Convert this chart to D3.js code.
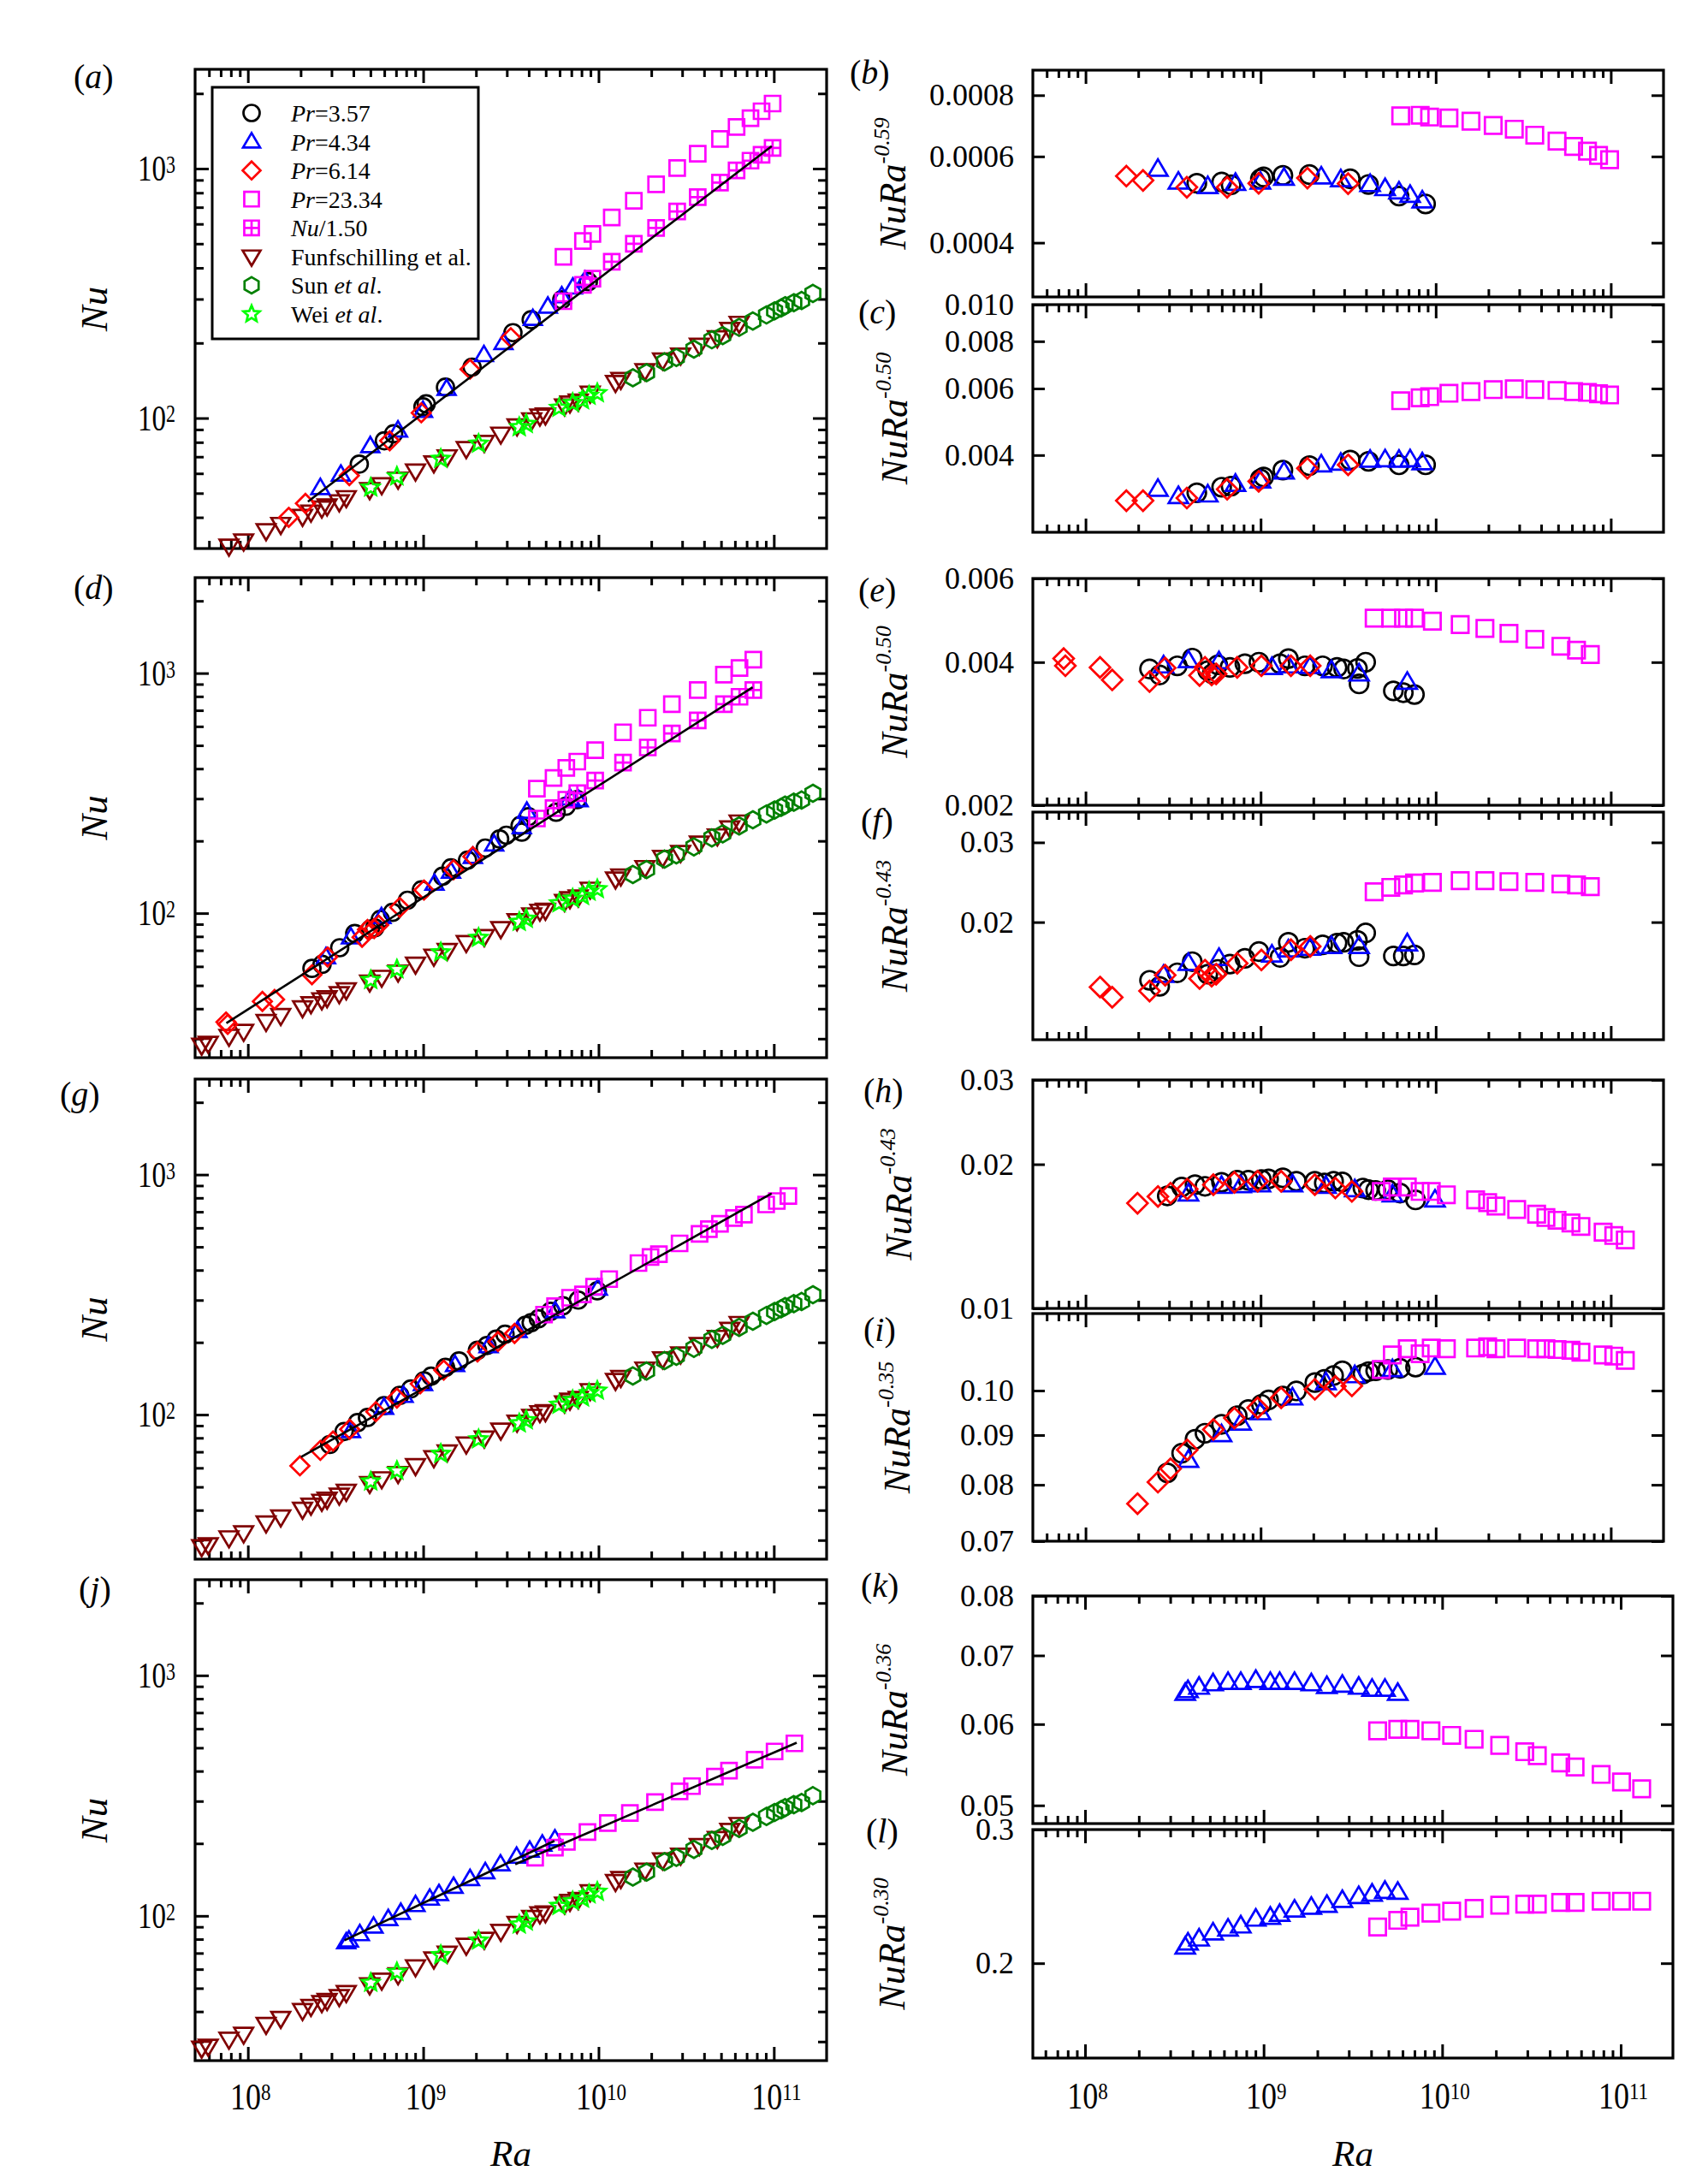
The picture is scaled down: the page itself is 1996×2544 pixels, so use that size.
<!DOCTYPE html>
<html><head><meta charset="utf-8">
<script src="https://cdn.jsdelivr.net/npm/d3@7"></script>
<style>
body{margin:0;background:#fff}
svg{display:block}
text{font-family:"Liberation Serif","Times New Roman",serif;fill:#000}
</style>
</head><body><script>
// ---------------- DATA (Ra, value) ----------------
// Reference data shown in every Nu panel
const funf = [[5.45e7,28.2],[5.94e7,28.7],[7.8e7,30.7],[9.46e7,32.2],[1.27e8,35.4],[1.54e8,37.5],[2.05e8,40.4],[2.29e8,42.0],[2.64e8,43.6],[2.83e8,44.5],[3.32e8,46.2],[3.64e8,48.0],[4.95e8,51.7],[5.8e8,54.1],[7.19e8,56.9],[9.04e8,61.4],[1.15e9,66.2],[1.37e9,70.0],[1.76e9,75.5],[2.23e9,80.0],[2.77e9,86.3],[3.43e9,93.1],[4.16e9,98.5],[4.63e9,102],[4.98e9,103],[6.4e9,112],[6.87e9,115],[7.66e9,117],[8.96e9,126],[1.25e10,139],[1.34e10,143],[1.84e10,155],[2.32e10,171],[2.94e10,179],[3.76e10,196],[4.76e10,210],[5.61e10,227],[6.34e10,240]];
const sun = [[1.57e10,145],[1.88e10,152],[2.38e10,168],[2.78e10,175],[3.5e10,189],[4.43e10,206],[5.11e10,214],[6.34e10,231],[7.59e10,245],[9.08e10,259],[1.01e11,269],[1.1e11,276],[1.16e11,282],[1.3e11,290],[1.44e11,296],[1.67e11,316]];
const wei = [[5.02e8,52.7],[7.08e8,58.4],[1.26e9,68.7],[2.07e9,79.0],[3.53e9,92.0],[3.87e9,94.8],[5.96e9,110],[7.12e9,115],[8.1e9,118],[8.83e9,123],[9.84e9,126]];

// Panel (a)
const a_pr357 = [[4.32e8,65.4],[6.0e8,81.1],[6.78e8,86.5],[9.97e8,111],[1.04e9,114],[1.34e9,133],[1.9e9,160],[3.25e9,220],[4.13e9,248],[6.17e9,298],[8.75e9,352]];
const a_pr434 = [[2.59e8,52.5],[3.39e8,59.4],[4.99e8,77.3],[7.18e8,89.3],[9.97e8,107],[1.36e9,131],[2.22e9,179],[2.87e9,200],[4.22e9,250],[5.14e9,280],[6.17e9,308],[7.14e9,334],[8.38e9,356]];
const a_pr614 = [[1.71e8,40.0],[2.13e8,45.5],[3.79e8,58.8],[6.44e8,81.1],[9.75e8,105],[1.85e9,157],[3.16e9,210]];
const a_pr2334 = [[6.31e9,443],[8.15e9,513],[9.23e9,547],[1.19e10,637],[1.59e10,743],[2.13e10,865],[2.81e10,1005],[3.68e10,1147],[4.93e10,1314],[6.13e10,1469],[7.36e10,1593],[8.51e10,1698],[9.84e10,1823]];
const a_scaled = [[6.31e9,294],[8.15e9,342],[9.23e9,362],[1.19e10,423],[1.59e10,500],[2.13e10,578],[2.81e10,673],[3.68e10,768],[4.93e10,879],[6.13e10,983],[7.36e10,1076],[8.51e10,1136],[9.84e10,1210]];
const a_fit = [[2.2e8,46.2],[9.73e10,1231]];

// Panel (b)  Nu Ra^-0.59
const b_pr357 = [[4.32e8,5.29e-4],[5.99e8,5.32e-4],[6.78e8,5.25e-4],[9.97e8,5.40e-4],[1.04e9,5.45e-4],[1.34e9,5.49e-4],[1.9e9,5.51e-4],[3.25e9,5.40e-4],[4.13e9,5.26e-4],[6.17e9,4.98e-4],[8.75e9,4.80e-4]];
const b_pr434 = [[2.59e8,5.65e-4],[3.39e8,5.32e-4],[4.99e8,5.21e-4],[7.18e8,5.29e-4],[9.97e8,5.32e-4],[1.36e9,5.42e-4],[2.22e9,5.45e-4],[2.87e9,5.38e-4],[4.22e9,5.26e-4],[5.14e9,5.16e-4],[6.17e9,5.08e-4],[7.14e9,5.0e-4],[8.38e9,4.87e-4]];
const b_pr614 = [[1.71e8,5.47e-4],[2.13e8,5.36e-4],[3.79e8,5.19e-4],[6.44e8,5.19e-4],[9.75e8,5.29e-4],[1.85e9,5.42e-4],[3.16e9,5.28e-4]];
const b_pr2334 = [[6.31e9,7.26e-4],[8.15e9,7.28e-4],[9.23e9,7.22e-4],[1.19e10,7.19e-4],[1.59e10,7.08e-4],[2.13e10,6.94e-4],[2.81e10,6.82e-4],[3.68e10,6.63e-4],[4.93e10,6.45e-4],[6.13e10,6.29e-4],[7.36e10,6.15e-4],[8.51e10,6.03e-4],[9.84e10,5.91e-4]];

// Panel (c)  Nu Ra^-0.50
const c_pr357 = [[4.32e8,3.18e-3],[5.99e8,3.29e-3],[6.78e8,3.31e-3],[9.97e8,3.46e-3],[1.04e9,3.5e-3],[1.34e9,3.65e-3],[1.9e9,3.75e-3],[3.25e9,3.88e-3],[4.13e9,3.85e-3],[6.17e9,3.77e-3],[8.75e9,3.77e-3]];
const c_pr434 = [[2.59e8,3.25e-3],[3.39e8,3.11e-3],[4.99e8,3.14e-3],[7.18e8,3.35e-3],[9.97e8,3.42e-3],[1.36e9,3.61e-3],[2.22e9,3.77e-3],[2.87e9,3.81e-3],[4.22e9,3.88e-3],[5.14e9,3.89e-3],[6.17e9,3.88e-3],[7.14e9,3.89e-3],[8.38e9,3.82e-3]];
const c_pr614 = [[1.71e8,3.03e-3],[2.13e8,3.03e-3],[3.79e8,3.08e-3],[6.44e8,3.25e-3],[9.75e8,3.41e-3],[1.85e9,3.69e-3],[3.16e9,3.77e-3]];
const c_pr2334 = [[6.31e9,5.57e-3],[8.15e9,5.67e-3],[9.23e9,5.71e-3],[1.19e10,5.83e-3],[1.59e10,5.89e-3],[2.13e10,5.96e-3],[2.81e10,5.99e-3],[3.68e10,5.96e-3],[4.93e10,5.93e-3],[6.13e10,5.89e-3],[7.36e10,5.86e-3],[8.51e10,5.81e-3],[9.84e10,5.77e-3]];

// Panel (d)
const d_pr357 = [[2.32e8,58.9],[2.65e8,61.2],[3.34e8,71.8],[4.07e8,82.3],[4.99e8,85.8],[5.29e8,86.9],[5.69e8,94.2],[6.68e8,100.8],[8.13e8,113.2],[9.77e8,125.0],[1.29e9,142.6],[1.44e9,154.4],[1.79e9,166.3],[2.26e9,186.8],[2.73e9,203.8],[2.98e9,211.3],[3.57e9,231.8],[3.65e9,217.5],[3.98e9,252.3],[5.73e9,263.4],[6.53e9,278.8],[7.56e9,297.4]];
const d_pr434 = [[2.79e8,65.6],[3.87e8,79.3],[5.78e8,96.4],[1.16e9,132.8],[1.44e9,149.1],[1.92e9,171.8],[2.54e9,193.5],[3.65e9,228.4],[3.9e9,265],[6.88e9,301.1],[7.7e9,296]];
const d_pr614 = [[7.5e7,35.2],[7.67e7,34.4],[1.21e8,42.9],[1.42e8,43.7],[2.32e8,55.4],[2.85e8,65.7],[4.48e8,79.4],[4.81e8,85.5],[5.25e8,86.2],[5.57e8,89.2],[7.35e8,105.7],[1.01e9,124.9],[1.49e9,151.7],[1.92e9,172.2]];
const d_pr2334 = [[4.45e9,330],[5.54e9,366],[6.55e9,403],[7.57e9,428],[9.57e9,478],[1.38e10,567],[1.91e10,652],[2.62e10,742],[3.68e10,850],[5.19e10,985],[6.37e10,1050],[7.64e10,1138]];
const d_scaled = [[4.45e9,248],[5.54e9,274],[6.55e9,297],[7.57e9,316],[9.57e9,357],[1.38e10,424],[1.91e10,490],[2.62e10,561],[3.68e10,635],[5.19e10,742],[6.37e10,797],[7.64e10,850]];
const d_fit = [[7.54e7,34.8],[7.57e10,873]];

// Panel (e)  Nu Ra^-0.50
const e_pr357 = [[2.32e8,3.87e-3],[2.65e8,3.76e-3],[3.34e8,3.93e-3],[4.07e8,4.08e-3],[4.99e8,3.84e-3],[5.29e8,3.78e-3],[5.69e8,3.95e-3],[6.68e8,3.90e-3],[8.13e8,3.97e-3],[9.77e8,4.0e-3],[1.29e9,3.97e-3],[1.44e9,4.07e-3],[1.79e9,3.93e-3],[2.26e9,3.93e-3],[2.73e9,3.90e-3],[2.98e9,3.87e-3],[3.57e9,3.88e-3],[3.65e9,3.60e-3],[3.98e9,4.0e-3],[5.73e9,3.48e-3],[6.53e9,3.45e-3],[7.56e9,3.42e-3]];
const e_pr434 = [[2.79e8,3.93e-3],[3.87e8,4.03e-3],[5.78e8,4.01e-3],[1.16e9,3.90e-3],[1.44e9,3.93e-3],[1.92e9,3.92e-3],[2.54e9,3.84e-3],[3.65e9,3.78e-3],[6.88e9,3.63e-3]];
const e_pr614 = [[7.5e7,4.07e-3],[7.67e7,3.93e-3],[1.21e8,3.90e-3],[1.42e8,3.67e-3],[2.32e8,3.64e-3],[2.85e8,3.89e-3],[4.48e8,3.75e-3],[4.81e8,3.90e-3],[5.25e8,3.76e-3],[5.57e8,3.78e-3],[7.35e8,3.90e-3],[1.01e9,3.93e-3],[1.49e9,3.93e-3],[1.92e9,3.93e-3]];
const e_pr2334 = [[4.45e9,4.95e-3],[5.54e9,4.95e-3],[6.55e9,4.95e-3],[7.57e9,4.95e-3],[9.57e9,4.88e-3],[1.38e10,4.80e-3],[1.91e10,4.71e-3],[2.62e10,4.60e-3],[3.68e10,4.47e-3],[5.19e10,4.32e-3],[6.37e10,4.24e-3],[7.64e10,4.15e-3]];

// Panel (f)  Nu Ra^-0.43
const f_pr357 = [[2.32e8,1.488e-2],[2.65e8,1.443e-2],[3.34e8,1.546e-2],[4.07e8,1.636e-2],[4.99e8,1.535e-2],[5.69e8,1.573e-2],[6.68e8,1.616e-2],[8.13e8,1.664e-2],[9.77e8,1.722e-2],[1.29e9,1.672e-2],[1.44e9,1.805e-2],[1.79e9,1.752e-2],[2.26e9,1.782e-2],[2.73e9,1.798e-2],[2.98e9,1.805e-2],[3.57e9,1.823e-2],[3.65e9,1.678e-2],[3.98e9,1.893e-2],[5.73e9,1.684e-2],[6.53e9,1.684e-2],[7.56e9,1.693e-2]];
const f_pr434 = [[2.79e8,1.527e-2],[3.87e8,1.622e-2],[5.78e8,1.664e-2],[1.16e9,1.693e-2],[1.44e9,1.738e-2],[1.92e9,1.752e-2],[2.54e9,1.768e-2],[3.65e9,1.768e-2],[6.88e9,1.792e-2]];
const f_pr614 = [[1.21e8,1.438e-2],[1.42e8,1.365e-2],[2.32e8,1.409e-2],[2.85e8,1.527e-2],[4.48e8,1.501e-2],[4.81e8,1.567e-2],[5.25e8,1.519e-2],[5.57e8,1.535e-2],[7.35e8,1.622e-2],[1.01e9,1.65e-2],[1.49e9,1.738e-2],[1.92e9,1.768e-2]];
const f_pr2334 = [[4.45e9,2.334e-2],[5.54e9,2.387e-2],[6.55e9,2.416e-2],[7.57e9,2.441e-2],[9.57e9,2.449e-2],[1.38e10,2.47e-2],[1.91e10,2.47e-2],[2.62e10,2.458e-2],[3.68e10,2.449e-2],[5.19e10,2.428e-2],[6.37e10,2.416e-2],[7.64e10,2.395e-2]];

// Panel (g)
const g_pr357 = [[2.93e8,75.1],[3.54e8,85.1],[4.22e8,92.7],[4.81e8,97.3],[5.98e8,109.0],[7.35e8,120.3],[8.5e8,128.0],[1.01e9,138.4],[1.11e9,144.6],[1.34e9,157.4],[1.6e9,167.4],[2.04e9,185.5],[2.31e9,194.1],[2.61e9,206.5],[2.93e9,216.2],[3.84e9,235.8],[4.13e9,241.5],[4.54e9,250.7],[5.33e9,269.5],[6.26e9,284.2],[7.67e9,300.1],[9.84e9,328]];
const g_pr434 = [[3.87e8,85.5],[5.98e8,106.9],[7.73e8,119.8],[9.97e8,134.3],[1.52e9,161.1],[2.36e9,192.9],[3.45e9,223.3],[5.66e9,269.8],[9.91e9,334.9]];
const g_pr614 = [[1.98e8,61.2],[2.59e8,71.0],[3.06e8,77.6],[3.81e8,86.9],[5.37e8,102.9],[7.08e8,117.2],[9.62e8,134.4],[1.31e9,153.3],[2.04e9,182.5],[2.67e9,201.6],[3.32e9,217.9]];
const g_pr2334 = [[4.89e9,261],[5.65e9,283],[6.88e9,307],[8.15e9,317],[9.43e9,341],[1.15e10,367],[1.69e10,428],[1.98e10,454],[2.21e10,466],[2.9e10,517],[3.77e10,566],[4.26e10,593],[4.93e10,624],[5.92e10,659],[6.75e10,681],[9.04e10,751],[1.04e11,776],[1.21e11,815]];
const g_fit = [[2.01e8,66.6],[9.72e10,834]];

// Panel (h)  Nu Ra^-0.43
const h_pr357 = [[2.93e8,1.718e-2],[3.54e8,1.793e-2],[4.22e8,1.813e-2],[4.81e8,1.799e-2],[5.98e8,1.834e-2],[7.35e8,1.852e-2],[8.5e8,1.852e-2],[1.01e9,1.858e-2],[1.11e9,1.864e-2],[1.34e9,1.874e-2],[1.6e9,1.843e-2],[2.04e9,1.843e-2],[2.31e9,1.828e-2],[2.61e9,1.843e-2],[2.93e9,1.837e-2],[3.84e9,1.784e-2],[4.13e9,1.77e-2],[4.54e9,1.764e-2],[5.33e9,1.77e-2],[6.26e9,1.741e-2],[7.67e9,1.685e-2]];
const h_pr434 = [[3.87e8,1.735e-2],[5.98e8,1.799e-2],[7.73e8,1.805e-2],[9.97e8,1.813e-2],[1.52e9,1.813e-2],[2.36e9,1.799e-2],[3.45e9,1.77e-2],[5.66e9,1.727e-2],[9.91e9,1.685e-2]];
const h_pr614 = [[1.98e8,1.658e-2],[2.59e8,1.713e-2],[3.06e8,1.741e-2],[3.81e8,1.775e-2],[5.37e8,1.813e-2],[7.08e8,1.834e-2],[9.62e8,1.843e-2],[1.31e9,1.843e-2],[2.04e9,1.813e-2],[2.67e9,1.784e-2],[3.32e9,1.755e-2]];
const h_pr2334 = [[4.89e9,1.755e-2],[5.65e9,1.793e-2],[6.88e9,1.793e-2],[8.15e9,1.755e-2],[9.43e9,1.755e-2],[1.15e10,1.727e-2],[1.69e10,1.685e-2],[1.98e10,1.663e-2],[2.21e10,1.636e-2],[2.9e10,1.609e-2],[3.77e10,1.573e-2],[4.26e10,1.548e-2],[4.93e10,1.528e-2],[5.92e10,1.508e-2],[6.75e10,1.483e-2],[9.04e10,1.443e-2],[1.04e11,1.42e-2],[1.21e11,1.39e-2]];

// Panel (i)  Nu Ra^-0.35
const i_pr357 = [[2.93e8,8.23e-2],[3.54e8,8.62e-2],[4.22e8,8.91e-2],[4.81e8,9.04e-2],[5.98e8,9.23e-2],[7.35e8,9.42e-2],[8.5e8,9.56e-2],[1.01e9,9.68e-2],[1.11e9,9.78e-2],[1.34e9,9.87e-2],[1.6e9,9.99e-2],[2.04e9,0.1019],[2.31e9,0.1027],[2.61e9,0.1036],[2.93e9,0.1048],[3.84e9,0.104],[4.13e9,0.1046],[4.54e9,0.1048],[5.33e9,0.1051],[6.26e9,0.1054],[7.67e9,0.1057]];
const i_pr434 = [[3.87e8,8.48e-2],[5.98e8,9.01e-2],[7.73e8,9.26e-2],[9.97e8,9.49e-2],[1.52e9,9.83e-2],[2.36e9,0.1019],[3.45e9,0.1036],[5.66e9,0.1051],[9.91e9,0.1057]];
const i_pr614 = [[1.98e8,7.65e-2],[2.59e8,8.05e-2],[3.06e8,8.31e-2],[3.81e8,8.69e-2],[5.37e8,9.12e-2],[7.08e8,9.37e-2],[9.62e8,9.6e-2],[1.31e9,9.83e-2],[2.04e9,0.1003],[2.67e9,0.101],[3.32e9,0.1011]];
const i_pr2334 = [[4.89e9,0.1051],[5.65e9,0.1088],[6.88e9,0.1104],[8.15e9,0.1091],[9.43e9,0.1106],[1.15e10,0.1104],[1.69e10,0.1106],[1.98e10,0.1109],[2.21e10,0.1104],[2.9e10,0.1106],[3.77e10,0.1104],[4.26e10,0.1104],[4.93e10,0.1102],[5.92e10,0.11],[6.75e10,0.1095],[9.04e10,0.1088],[1.04e11,0.1085],[1.21e11,0.1074]];

// Panel (j)
const j_pr434 = [[3.64e8,77.7],[3.77e8,79.1],[4.35e8,84.0],[5.21e8,90.3],[6.32e8,97.1],[7.45e8,103.0],[9.04e8,111.0],[1.09e9,118.0],[1.23e9,123.3],[1.49e9,132.2],[1.85e9,142.4],[2.26e9,152.1],[2.76e9,163.9],[3.41e9,176.3],[4.05e9,186.7],[4.78e9,198.1],[5.64e9,208.2]];
const j_pr2334 = [[4.35e9,174.4],[5.64e9,192.0],[6.6e9,203.1],[8.65e9,223.3],[1.13e10,243.2],[1.51e10,267.8],[2.1e10,297.4],[2.9e10,329.3],[3.41e10,346.3],[4.61e10,379.6],[5.55e10,402.0],[7.77e10,446.3],[1.01e11,482.6],[1.31e11,521.5]];
const j_fit1 = [[3.56e8,79.1],[5.6e9,205]];
const j_fit2 = [[3.35e9,164],[1.35e11,525]];

// Panel (k)  Nu Ra^-0.36
const k_pr434 = [[3.64e8,6.43e-2],[3.77e8,6.47e-2],[4.35e8,6.52e-2],[5.21e8,6.57e-2],[6.32e8,6.59e-2],[7.45e8,6.59e-2],[9.04e8,6.62e-2],[1.09e9,6.59e-2],[1.23e9,6.59e-2],[1.49e9,6.59e-2],[1.85e9,6.57e-2],[2.26e9,6.53e-2],[2.76e9,6.55e-2],[3.41e9,6.52e-2],[4.05e9,6.49e-2],[4.78e9,6.49e-2],[5.64e9,6.43e-2]];
const k_pr2334 = [[4.35e9,5.91e-2],[5.64e9,5.93e-2],[6.6e9,5.93e-2],[8.65e9,5.91e-2],[1.13e10,5.85e-2],[1.51e10,5.80e-2],[2.1e10,5.72e-2],[2.9e10,5.64e-2],[3.41e10,5.59e-2],[4.61e10,5.50e-2],[5.55e10,5.45e-2],[7.77e10,5.36e-2],[1.01e11,5.27e-2],[1.31e11,5.19e-2]];

// Panel (l)  Nu Ra^-0.30
const l_pr434 = [[3.64e8,0.2101],[3.77e8,0.2127],[4.35e8,0.2153],[5.21e8,0.2193],[6.32e8,0.2219],[7.45e8,0.224],[9.04e8,0.2287],[1.09e9,0.23],[1.23e9,0.232],[1.49e9,0.2351],[1.85e9,0.2371],[2.26e9,0.2385],[2.76e9,0.242],[3.41e9,0.2449],[4.05e9,0.2467],[4.78e9,0.2488],[5.64e9,0.2481]];
const l_pr2334 = [[4.35e9,0.2232],[5.64e9,0.2278],[6.6e9,0.23],[8.65e9,0.2328],[1.13e10,0.2342],[1.51e10,0.2362],[2.1e10,0.2385],[2.9e10,0.2393],[3.41e10,0.2393],[4.61e10,0.2405],[5.55e10,0.2405],[7.77e10,0.2414],[1.01e11,0.2414],[1.31e11,0.2414]];

// Axis ticks / labels
const xMajor = [1e8,1e9,1e10,1e11];
const xMajorExp = ['8','9','10','11'];
const nuMajor = [1e2,1e3];
const nuMajorExp = ['2','3'];
const b_ticks=[0.0004,0.0006,0.0008], c_ticks=[0.004,0.006,0.008,0.010], e_ticks=[0.002,0.004,0.006],
      f_ticks=[0.02,0.03], h_ticks=[0.01,0.02,0.03], i_ticks=[0.07,0.08,0.09,0.10],
      k_ticks=[0.05,0.06,0.07,0.08], l_ticks=[0.2,0.3];
const legendLabels = [
  [['Pr','i'],['=3.57','n']],[['Pr','i'],['=4.34','n']],[['Pr','i'],['=6.14','n']],[['Pr','i'],['=23.34','n']],
  [['Nu','i'],['/1.50','n']],[['Funfschilling et al.','n']],[['Sun ','n'],['et al','i'],['.','n']],[['Wei ','n'],['et al','i'],['.','n']]
];

// ---------------- DRAWING ----------------
const W=1996,H=2544;
const svg=d3.select('body').append('svg').attr('width',W).attr('height',H);
svg.append('rect').attr('width',W).attr('height',H).attr('fill','#fff');

const K='#000000',B='#0000ff',R='#ff0000',M='#ff00ff',FU='#800000',SU='#008000',WE='#00ff00';

// custom symbol types (size = half width)
const SYM = {
  circle:{draw(c,r){c.moveTo(r,0);c.arc(0,0,r,0,2*Math.PI);}},
  tri:{draw(c,r){const h=r*1.7;c.moveTo(0,-h*0.6);c.lineTo(r,h*0.4);c.lineTo(-r,h*0.4);c.closePath();}},
  triDown:{draw(c,r){const h=r*1.7;c.moveTo(0,h*0.6);c.lineTo(r,-h*0.4);c.lineTo(-r,-h*0.4);c.closePath();}},
  diamond:{draw(c,r){c.moveTo(0,-r);c.lineTo(r,0);c.lineTo(0,r);c.lineTo(-r,0);c.closePath();}},
  square:{draw(c,r){c.rect(-r,-r,2*r,2*r);}},
  squarePlus:{draw(c,r){c.rect(-r,-r,2*r,2*r);c.moveTo(0,-r);c.lineTo(0,r);c.moveTo(-r,0);c.lineTo(r,0);}},
  hex:{draw(c,r){for(let k=0;k<6;k++){const a=(-90+60*k)*Math.PI/180;const x=r*Math.cos(a),y=r*Math.sin(a);k?c.lineTo(x,y):c.moveTo(x,y);}c.closePath();}},
  star:{draw(c,r){for(let k=0;k<10;k++){const rr=k%2?r*0.45:r;const a=(-90+36*k)*Math.PI/180;const x=rr*Math.cos(a),y=rr*Math.sin(a);k?c.lineTo(x,y):c.moveTo(x,y);}c.closePath();}}
};
const SIZE = {circle:10,tri:10.5,triDown:11,diamond:11,square:9,squarePlus:9,hex:10,star:10.5};

function drawSeries(g,data,type,color,x,y,scale){
  const [x0,x1]=x.domain(), [y0,y1]=y.domain();
  const pts=data.filter(d=>d[0]>=x0&&d[0]<=x1&&d[1]>=y0*0.995&&d[1]<=y1*1.005);
  g.append('g').selectAll('path').data(pts).join('path')
    .attr('d',d3.symbol().type(SYM[type]).size(SIZE[type]*scale))
    .attr('transform',d=>`translate(${x(d[0])},${y(d[1])})`)
    .attr('fill','none').attr('stroke',color).attr('stroke-width',2.7).attr('stroke-linejoin','miter');
}

function minorTicks(dom){
  const out=[];
  for(let e=-6;e<=12;e++){for(let k=2;k<=9;k++){const v=k*Math.pow(10,e);if(v>dom[0]*1.0001&&v<dom[1]*0.9999)out.push(v);}}
  return out;
}

function frameAndTicks(g,x,y,yMajor,yMinor,opt){
  const [X0,X1]=x.range(), [Y1,Y0]=y.range();
  const xmin=minorTicks(x.domain()), xmaj=xMajor.filter(v=>v>x.domain()[0]&&v<x.domain()[1]);
  const style=s=>{s.select('.domain').remove();s.selectAll('line').attr('stroke','#000').attr('stroke-width',3);};
  g.append('g').attr('transform',`translate(0,${Y1})`).call(d3.axisBottom(x).tickValues(xmin).tickSize(-9).tickFormat('')).call(style);
  g.append('g').attr('transform',`translate(0,${Y1})`).call(d3.axisBottom(x).tickValues(xmaj).tickSize(-16).tickFormat('')).call(style);
  g.append('g').attr('transform',`translate(0,${Y0})`).call(d3.axisTop(x).tickValues(xmin).tickSize(-9).tickFormat('')).call(style);
  g.append('g').attr('transform',`translate(0,${Y0})`).call(d3.axisTop(x).tickValues(xmaj).tickSize(-16).tickFormat('')).call(style);
  if(yMinor.length){
    g.append('g').attr('transform',`translate(${X0},0)`).call(d3.axisLeft(y).tickValues(yMinor).tickSize(-10).tickFormat('')).call(style);
    g.append('g').attr('transform',`translate(${X1},0)`).call(d3.axisRight(y).tickValues(yMinor).tickSize(-10).tickFormat('')).call(style);
  }
  g.append('g').attr('transform',`translate(${X0},0)`).call(d3.axisLeft(y).tickValues(yMajor).tickSize(-opt.major).tickFormat('')).call(style);
  g.append('g').attr('transform',`translate(${X1},0)`).call(d3.axisRight(y).tickValues(yMajor).tickSize(-opt.major).tickFormat('')).call(style);
  g.append('rect').attr('x',X0).attr('y',Y0).attr('width',X1-X0).attr('height',Y1-Y0)
    .attr('fill','none').attr('stroke','#000').attr('stroke-width',3.2);
}

function panelLabel(g,letter,px,py){
  const t=g.append('text').attr('x',px).attr('y',py).attr('font-size',40);
  t.append('tspan').text('(');
  t.append('tspan').attr('font-style','italic').text(letter);
  t.append('tspan').text(')');
}

function powLabel(g,xp,yp,exp,fs,sfs,sdy,sy,anchor){
  const gg=g.append('g').attr('transform',`translate(${xp},${yp}) scale(1,${sy})`);
  const t=gg.append('text').attr('text-anchor',anchor).attr('font-size',fs);
  t.append('tspan').text('10');
  t.append('tspan').attr('font-size',sfs).attr('dy',sdy).text(exp);
}

// ---------- left (Nu) panels ----------
const leftPanels = [
  {lab:'a', y:[81,641],  yd:[30,2500], lp:[86,103],
   ser:[[a_pr357,'circle',K],[a_pr434,'tri',B],[a_pr614,'diamond',R],[a_pr2334,'square',M],[a_scaled,'squarePlus',M]], fits:[a_fit], legend:true},
  {lab:'d', y:[675,1236], yd:[25,2500], lp:[86,700],
   ser:[[d_pr357,'circle',K],[d_pr434,'tri',B],[d_pr614,'diamond',R],[d_pr2334,'square',M],[d_scaled,'squarePlus',M]], fits:[d_fit]},
  {lab:'g', y:[1261,1822], yd:[25,2500], lp:[70,1292],
   ser:[[g_pr357,'circle',K],[g_pr434,'tri',B],[g_pr614,'diamond',R],[g_pr2334,'square',M]], fits:[g_fit]},
  {lab:'j', y:[1846,2408], yd:[25,2500], lp:[92,1870],
   ser:[[j_pr434,'tri',B],[j_pr2334,'square',M]], fits:[j_fit1,j_fit2], xlabels:true}
];

leftPanels.forEach(p=>{
  const g=svg.append('g');
  const x=d3.scaleLog().domain([5e7,2e11]).range([228,966]);
  const y=d3.scaleLog().domain(p.yd).range([p.y[1],p.y[0]]);
  frameAndTicks(g,x,y,nuMajor,minorTicks(p.yd),{major:16});
  drawSeries(g,funf,'triDown',FU,x,y,1);
  drawSeries(g,sun,'hex',SU,x,y,1);
  drawSeries(g,wei,'star',WE,x,y,1);
  p.ser.forEach(s=>drawSeries(g,s[0],s[1],s[2],x,y,1));
  const line=d3.line().x(d=>x(d[0])).y(d=>y(d[1]));
  p.fits.forEach(f=>g.append('path').attr('d',line(f)).attr('fill','none').attr('stroke','#000').attr('stroke-width',2.6));
  nuMajor.forEach((v,i)=>powLabel(g,205,y(v)+14,nuMajorExp[i],33,22,-7,1.3,'end'));
  g.append('text').attr('transform',`translate(125,${(p.y[0]+p.y[1])/2}) rotate(-90)`)
    .attr('text-anchor','middle').attr('font-size',45).attr('font-style','italic').text('Nu');
  panelLabel(g,p.lab,p.lp[0],p.lp[1]);
  if(p.xlabels){
    xMajor.forEach((v,i)=>powLabel(g,x(v)+3,2465,xMajorExp[i],36,23,-9,1.22,'middle'));
    g.append('text').attr('x',597).attr('y',2531).attr('text-anchor','middle').attr('font-size',43).attr('font-style','italic').text('Ra');
  }
  if(p.legend){
    const lg=g.append('g');
    lg.append('rect').attr('x',248).attr('y',102).attr('width',311).attr('height',294).attr('fill','#fff').attr('stroke','#000').attr('stroke-width',3);
    const types=[['circle',K],['tri',B],['diamond',R],['square',M],['squarePlus',M],['triDown',FU],['hex',SU],['star',WE]];
    const rowY=d3.scaleLinear().domain([0,7]).range([132,367]);
    types.forEach((t,i)=>{
      const cy=rowY(i);
      lg.append('path').attr('d',d3.symbol().type(SYM[t[0]]).size(SIZE[t[0]]*0.95)())
        .attr('transform',`translate(294,${cy})`).attr('fill','none').attr('stroke',t[1]).attr('stroke-width',2.7);
      const tx=lg.append('text').attr('x',340).attr('y',cy+10).attr('font-size',28);
      legendLabels[i].forEach(part=>tx.append('tspan').attr('font-style',part[1]==='i'?'italic':'normal').text(part[0]));
    });
  }
});

// ---------- right (compensated) panels ----------
const rightPanels = [
  {lab:'b', y:[82,347],   yd:[0.00031,0.0009], ticks:b_ticks, fmt:'.4f', exp:'-0.59', lp:[993,98], tx:1058,
   ser:[[b_pr357,'circle',K],[b_pr434,'tri',B],[b_pr614,'diamond',R],[b_pr2334,'square',M]]},
  {lab:'c', y:[356,622],  yd:[0.0025,0.010], ticks:c_ticks, fmt:'.3f', exp:'-0.50', lp:[1003,378], tx:1060,
   ser:[[c_pr357,'circle',K],[c_pr434,'tri',B],[c_pr614,'diamond',R],[c_pr2334,'square',M]]},
  {lab:'e', y:[676,941],  yd:[0.002,0.006], ticks:e_ticks, fmt:'.3f', exp:'-0.50', lp:[1003,703], tx:1060,
   ser:[[e_pr357,'circle',K],[e_pr434,'tri',B],[e_pr614,'diamond',R],[e_pr2334,'square',M]]},
  {lab:'f', y:[949,1215], yd:[0.011,0.035], ticks:f_ticks, fmt:'.2f', exp:'-0.43', lp:[1006,972], tx:1060,
   ser:[[f_pr357,'circle',K],[f_pr434,'tri',B],[f_pr614,'diamond',R],[f_pr2334,'square',M]]},
  {lab:'h', y:[1262,1529], yd:[0.01,0.03], ticks:h_ticks, fmt:'.2f', exp:'-0.43', lp:[1009,1288], tx:1065,
   ser:[[h_pr357,'circle',K],[h_pr434,'tri',B],[h_pr614,'diamond',R],[h_pr2334,'square',M]]},
  {lab:'i', y:[1535,1801], yd:[0.07,0.12], ticks:i_ticks, fmt:'.2f', exp:'-0.35', lp:[1009,1567], tx:1063,
   ser:[[i_pr357,'circle',K],[i_pr434,'tri',B],[i_pr614,'diamond',R],[i_pr2334,'square',M]]},
  {lab:'k', y:[1865,2131], yd:[0.048,0.08], ticks:k_ticks, fmt:'.2f', exp:'-0.36', lp:[1006,1866], tx:1060, wide:true,
   ser:[[k_pr434,'tri',B],[k_pr2334,'square',M]]},
  {lab:'l', y:[2138,2405], yd:[0.15,0.3], ticks:l_ticks, fmt:'.1f', exp:'-0.30', lp:[1012,2153], tx:1057, wide:true,
   ser:[[l_pr434,'tri',B],[l_pr2334,'square',M]], xlabels:true}
];

rightPanels.forEach(p=>{
  const g=svg.append('g');
  const x=p.wide? d3.scaleLog().domain([5.1e7,1.96e11]).range([1207,1955])
                : d3.scaleLog().domain([5e7,2e11]).range([1207,1944]);
  const y=d3.scaleLog().domain(p.yd).range([p.y[1],p.y[0]]);
  frameAndTicks(g,x,y,p.ticks,[],{major:14});
  p.ser.forEach(s=>drawSeries(g,s[0],s[1],s[2],x,y,1.08));
  const f=d3.format(p.fmt);
  p.ticks.forEach(v=>g.append('text').attr('x',1185).attr('y',y(v)+12).attr('text-anchor','end').attr('font-size',36).text(f(v)));
  const t=g.append('text').attr('transform',`translate(${p.tx},${(p.y[0]+p.y[1])/2}) rotate(-90)`)
    .attr('text-anchor','middle').attr('font-style','italic');
  t.append('tspan').attr('font-size',44).text('NuRa');
  t.append('tspan').attr('font-size',26).attr('dy',-19).text(p.exp);
  panelLabel(g,p.lab,p.lp[0],p.lp[1]);
  if(p.xlabels){
    xMajor.forEach((v,i)=>powLabel(g,x(v)+3,2464,xMajorExp[i],36,23,-9,1.22,'middle'));
    g.append('text').attr('x',1581).attr('y',2531).attr('text-anchor','middle').attr('font-size',43).attr('font-style','italic').text('Ra');
  }
});
</script></body></html>
